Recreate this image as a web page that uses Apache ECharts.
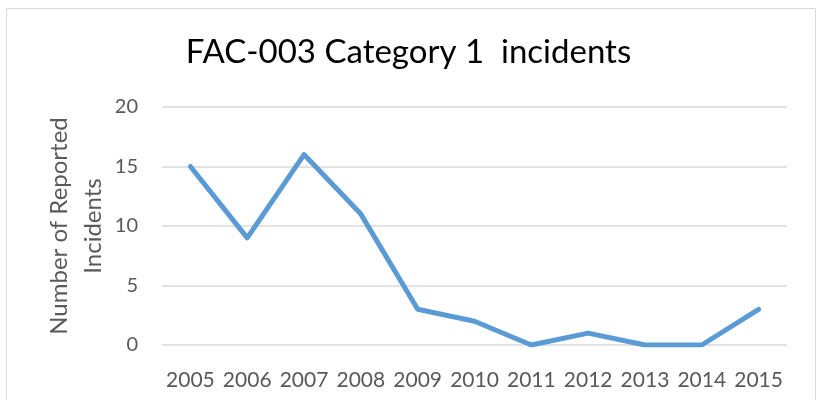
<!DOCTYPE html>
<html><head><meta charset="utf-8">
<script src="https://cdn.jsdelivr.net/npm/echarts@6/dist/echarts.min.js"></script>
<style>html,body{margin:0;padding:0;background:#fff}#c{width:817px;height:400px}</style>
</head><body><div id="c"></div>
<script>
const years = ['2005','2006','2007','2008','2009','2010','2011','2012','2013','2014','2015'];
const incidents = [15, 9, 16, 11, 3, 2, 0, 1, 0, 0, 3];
const yTicks = [0, 5, 10, 15, 20];
const titleText = 'FAC-003 Category 1  incidents';
const yName = 'Number of Reported\nIncidents';

const chart = echarts.init(document.getElementById('c'), null, {renderer: 'canvas'});
const font = 'Lato, "Open Sans", sans-serif';
chart.setOption({
  animation: false,
  backgroundColor: '#fff',
  graphic: [{type: 'rect', shape: {x: 6.5, y: 8.5, width: 809, height: 400}, style: {fill: 'none', stroke: '#D9D9D9', lineWidth: 1}}],
  title: {text: titleText, left: 'center', top: 31, textStyle: {fontFamily: font, fontSize: 33, fontWeight: 'normal', color: '#000'}},
  grid: {left: 162, right: 30, top: 107, bottom: 55},
  xAxis: {type: 'category', data: years, boundaryGap: true,
    axisLine: {show: false}, axisTick: {show: false},
    axisLabel: {interval: 0, fontFamily: font, fontSize: 21, color: '#595959', margin: 25}},
  yAxis: {type: 'value', min: yTicks[0], max: yTicks[yTicks.length-1], interval: 5,
    name: yName, nameLocation: 'middle', nameGap: 52, nameRotate: 90, nameMoveOverlap: false,
    nameTextStyle: {fontFamily: font, fontSize: 24, color: '#595959', lineHeight: 34},
    axisLine: {show: false}, axisTick: {show: false},
    axisLabel: {fontFamily: font, fontSize: 20, color: '#595959', margin: 24},
    splitLine: {lineStyle: {color: '#D9D9D9', width: 1.5}}},
  series: [{type: 'line', data: incidents, symbol: 'none', lineStyle: {color: '#5B9BD5', width: 5, cap: 'round', join: 'round'}}]
});
</script></body></html>
